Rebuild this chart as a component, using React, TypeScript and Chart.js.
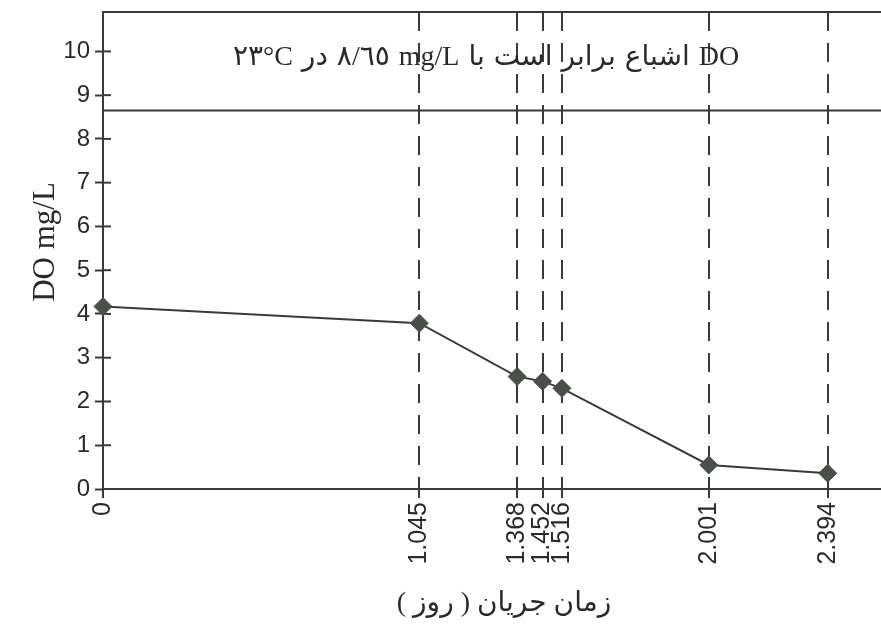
import { useEffect, useRef } from "react";
import { Chart, registerables } from "chart.js";
Chart.register(...registerables);

// ---- data ----
const X_TIMES = [0, 1.045, 1.368, 1.452, 1.516, 2.001, 2.394];
const DO_VALUES = [4.17, 3.79, 2.57, 2.46, 2.3, 0.55, 0.36];
const X_TICK_LABELS = ["0", "1.045", "1.368", "1.452", "1.516", "2.001", "2.394"];
const Y_TICKS = [0, 1, 2, 3, 4, 5, 6, 7, 8, 9, 10];
const SATURATION = 8.65;
const X_MAX = 2.57;
const Y_MAX = 10.9;
// note text pieces, in visual left-to-right order
const NOTE_PIECES = ["٢٣°C", "در", "٨/٦٥", "mg/L", "با", "است", "برابر", "اشباع", "DO"];
const X_TITLE = "زمان جریان ( روز )";
const Y_TITLE = "DO mg/L";

const LINE = "#3a3a3a";
const POINT = "#4a4f4a";
const TICK_FONT = "'Liberation Sans', 'DejaVu Sans', sans-serif";
const TEXT_FONT = "'Liberation Serif', 'DejaVu Sans', serif";

const decorPlugin = {
  id: "decor",
  beforeDatasetsDraw(chart: any) {
    const { ctx, chartArea, scales } = chart;
    const { left, right, top } = chartArea;
    ctx.save();
    ctx.strokeStyle = LINE;
    ctx.lineWidth = 2;
    ctx.setLineDash([]);
    // top border
    ctx.beginPath();
    ctx.moveTo(left, top);
    ctx.lineTo(right, top);
    ctx.stroke();
    // saturation line
    const ys = scales.y.getPixelForValue(SATURATION);
    ctx.beginPath();
    ctx.moveTo(left, ys);
    ctx.lineTo(right, ys);
    ctx.stroke();
    // inward y tick marks
    for (const v of Y_TICKS) {
      const py = scales.y.getPixelForValue(v);
      ctx.beginPath();
      ctx.moveTo(left, py);
      ctx.lineTo(left + 8, py);
      ctx.stroke();
    }
    ctx.restore();
  },
  afterDraw(chart: any) {
    const { ctx, chartArea, scales } = chart;
    ctx.save();
    ctx.fillStyle = "#2a2a2a";
    // note inside plot
    ctx.font = `28px ${TEXT_FONT}`;
    ctx.textBaseline = "middle";
    ctx.textAlign = "left";
    ctx.direction = "ltr";
    const gap = 9;
    const widths = NOTE_PIECES.map((p) => ctx.measureText(p).width);
    const total = widths.reduce((a, b) => a + b, 0) + gap * (NOTE_PIECES.length - 1);
    const cx = 486;
    let x = cx - total / 2;
    const ny = scales.y.getPixelForValue(9.85);
    NOTE_PIECES.forEach((p, i) => {
      ctx.fillText(p, x, ny);
      x += widths[i] + gap;
    });
    // x title
    ctx.font = `28px ${TEXT_FONT}`;
    ctx.direction = "rtl";
    ctx.textAlign = "center";
    ctx.textBaseline = "middle";
    ctx.fillText(X_TITLE, 504, 604);
    // y title
    ctx.direction = "ltr";
    ctx.font = `31px ${TEXT_FONT}`;
    ctx.translate(54, 242);
    ctx.rotate(-Math.PI / 2);
    ctx.textAlign = "center";
    ctx.textBaseline = "alphabetic";
    ctx.fillText(Y_TITLE, 0, 0);
    ctx.restore();
  },
};

export default function App() {
  const ref = useRef<HTMLCanvasElement | null>(null);
  useEffect(() => {
    if (!ref.current) return;
    const chart = new Chart(ref.current, {
      type: "line",
      data: {
        datasets: [
          {
            data: X_TIMES.map((x, i) => ({ x, y: DO_VALUES[i] })),
            borderColor: LINE,
            borderWidth: 2,
            pointStyle: "rectRot",
            pointRadius: 9,
            pointBackgroundColor: POINT,
            pointBorderColor: POINT,
            pointBorderWidth: 1,
            tension: 0,
            clip: false,
          } as any,
        ],
      },
      options: {
        animation: false,
        responsive: false,
        devicePixelRatio: 1,
        layout: { autoPadding: false, padding: { top: 12, right: 0, left: 0, bottom: 0 } },
        plugins: { legend: { display: false }, tooltip: { enabled: false } },
        scales: {
          x: {
            type: "linear",
            min: 0,
            max: X_MAX,
            afterBuildTicks: (s: any) => {
              s.ticks = X_TIMES.map((v) => ({ value: v }));
            },
            afterFit: (s: any) => {
              s.height = 141;
              s.paddingLeft = 0;
              s.paddingRight = 0;
            },
            ticks: {
              autoSkip: false,
              minRotation: 90,
              maxRotation: 90,
              padding: 4,
              color: "#2a2a2a",
              font: { family: TICK_FONT, size: 25 },
              callback: (_v: any, i: number) => X_TICK_LABELS[i],
            },
            grid: {
              color: (c: any) => (c.tick && c.tick.value === 0 ? "rgba(0,0,0,0)" : LINE),
              lineWidth: 2,
              tickLength: 9,
              tickColor: LINE,
              tickWidth: 2,
              drawOnChartArea: true,
            },
            border: { display: true, color: LINE, width: 2, dash: [19, 12] },
          },
          y: {
            min: 0,
            max: Y_MAX,
            afterBuildTicks: (s: any) => {
              s.ticks = Y_TICKS.map((v) => ({ value: v }));
            },
            afterFit: (s: any) => {
              s.width = 103;
              s.paddingTop = 0;
              s.paddingBottom = 0;
            },
            ticks: {
              padding: 5,
              color: "#2a2a2a",
              font: { family: TICK_FONT, size: 24 },
            },
            grid: {
              drawOnChartArea: false,
              tickLength: 8,
              tickColor: LINE,
              tickWidth: 2,
              color: LINE,
            },
            border: { display: true, color: LINE, width: 2 },
          },
        },
      } as any,
      plugins: [decorPlugin],
    });
    return () => chart.destroy();
  }, []);
  return (
    <div style={{ position: "absolute", left: 0, top: 0, width: 881, height: 630, background: "#fff" }}>
      <canvas ref={ref} width={881} height={630} />
    </div>
  );
}
